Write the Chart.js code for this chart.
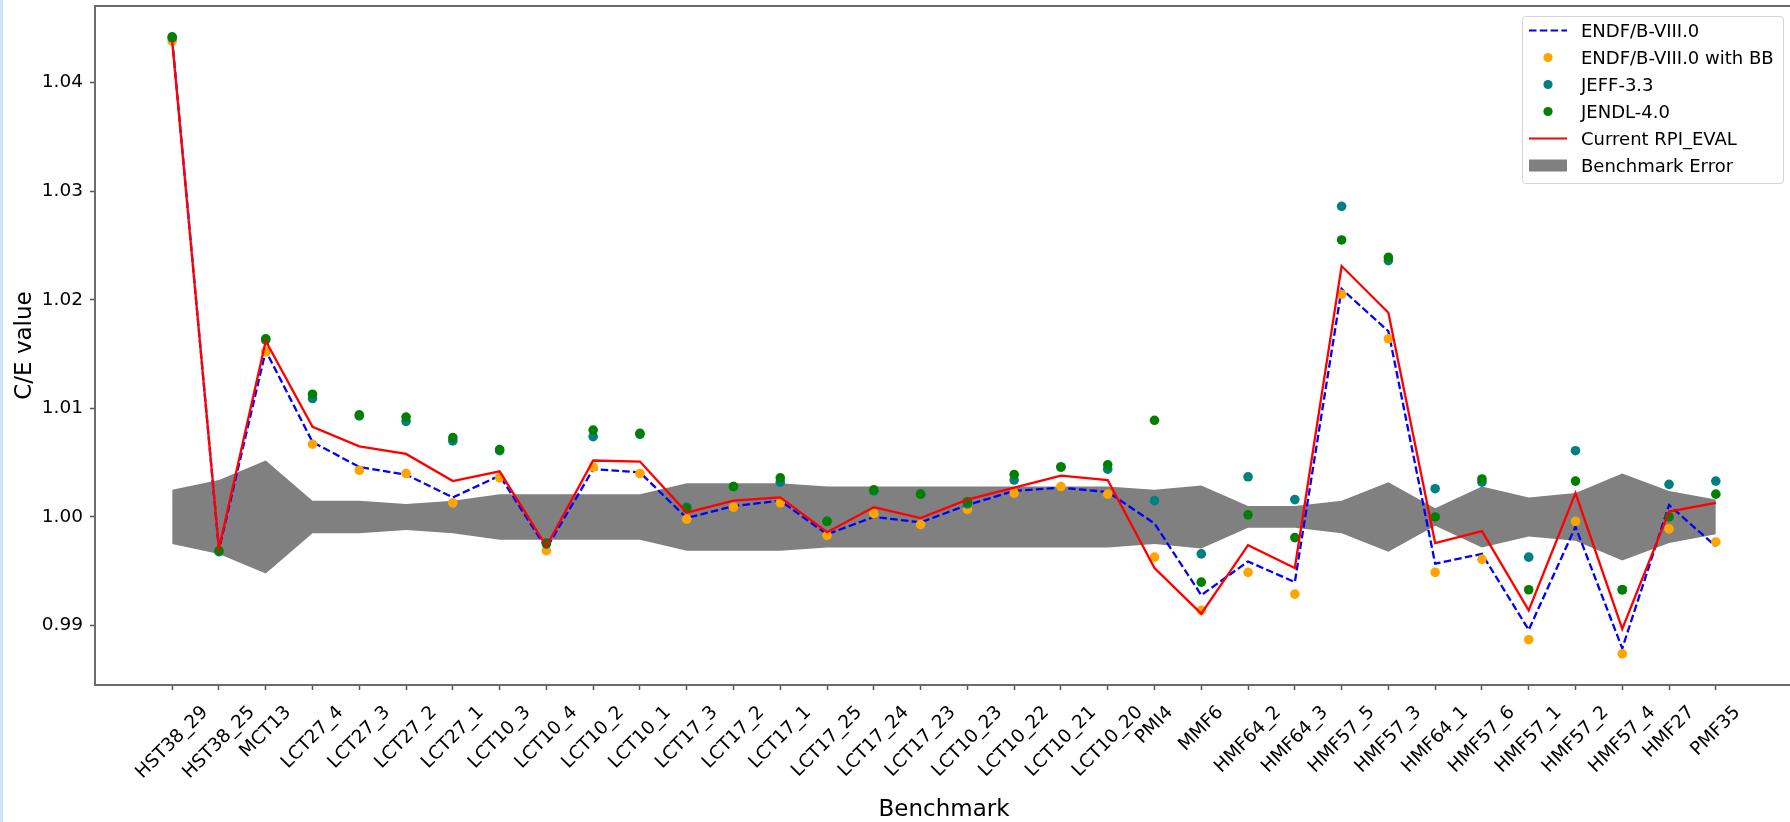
<!DOCTYPE html>
<html>
<head>
<meta charset="utf-8">
<script src="https://cdn.jsdelivr.net/npm/chart.js@4.4.1/dist/chart.umd.min.js"></script>
<style>
  html, body { margin: 0; padding: 0; background: #fff; overflow: hidden; }
  #wrap { position: relative; width: 1790px; height: 822px; overflow: hidden; }
  #strip { position: absolute; left: 0; top: 0; width: 3px; height: 822px; background: #cfe4fb; z-index: 2; }
  #chart { position: absolute; left: 0; top: 0; }
  #legend { position: absolute; left: 1522px; top: 16px; width: 260px; height: 166px;
            border: 1px solid #d4d4d4; border-radius: 4px; background: rgba(255,255,255,0.8);
            font: 18px "DejaVu Sans"; color: #000; }
  .row { position: absolute; left: 0; width: 100%; height: 27px; }
  .row svg { position: absolute; left: 5px; top: 0; }
  .row span { position: absolute; left: 58px; top: 0; line-height: 27px; white-space: nowrap; }
</style>
</head>
<body>
<div id="wrap">
  <div id="strip"></div>
  <canvas id="chart" width="1820" height="822"></canvas>
  <div id="legend"></div>
</div>
<script>
// benchmarks on the x axis
const benchmarks = ['HST38_29', 'HST38_25', 'MCT13', 'LCT27_4', 'LCT27_3', 'LCT27_2', 'LCT27_1',
    'LCT10_3', 'LCT10_4', 'LCT10_2', 'LCT10_1', 'LCT17_3', 'LCT17_2', 'LCT17_1', 'LCT17_25',
    'LCT17_24', 'LCT17_23', 'LCT10_23', 'LCT10_22', 'LCT10_21', 'LCT10_20', 'PMI4', 'MMF6',
    'HMF64_2', 'HMF64_3', 'HMF57_5', 'HMF57_3', 'HMF64_1', 'HMF57_6', 'HMF57_1', 'HMF57_2',
    'HMF57_4', 'HMF27', 'PMF35'];

// C/E values per library
const endf = [1.0440, 0.9970, 1.0153, 1.0069, 1.0046, 1.0039, 1.0018, 1.0038, 0.9971, 1.0044,
    1.0041, 0.9999, 1.0010, 1.0015, 0.9984, 1.0000, 0.9995, 1.0011, 1.0024, 1.0027, 1.0023,
    0.9994, 0.9928, 0.9959, 0.9940, 1.0210, 1.0171, 0.9957, 0.9966, 0.9896, 0.9991, 0.9879,
    1.0011, 0.9973];
const endfBB = [1.0438, 0.9969, 1.0152, 1.0067, 1.0043, 1.0040, 1.0013, 1.0036, 0.9969, 1.0046,
    1.0040, 0.9998, 1.0009, 1.0013, 0.9983, 1.0003, 0.9993, 1.0007, 1.0022, 1.0028, 1.0021,
    0.9963, 0.9914, 0.9949, 0.9929, 1.0205, 1.0164, 0.9949, 0.9961, 0.9887, 0.9996, 0.9874,
    0.9989, 0.9977];
const jeff = [1.0441, 0.9968, 1.0163, 1.0109, 1.0093, 1.0088, 1.0070, 1.0061, 0.9975, 1.0074,
    1.0076, 1.0009, 1.0028, 1.0032, 0.9996, 1.0024, 1.0021, 1.0012, 1.0034, 1.0046, 1.0044,
    1.0015, 0.9966, 1.0037, 1.0016, 1.0286, 1.0236, 1.0026, 1.0032, 0.9963, 1.0061, 0.9933,
    1.0030, 1.0033];
const jendl = [1.0442, 0.9969, 1.0164, 1.0113, 1.0094, 1.0092, 1.0073, 1.0062, 0.9976, 1.0080,
    1.0077, 1.0008, 1.0028, 1.0036, 0.9996, 1.0025, 1.0021, 1.0014, 1.0039, 1.0046, 1.0048,
    1.0089, 0.9940, 1.0002, 0.9981, 1.0255, 1.0239, 1.0000, 1.0035, 0.9933, 1.0033, 0.9933,
    1.0000, 1.0021];
const rpi = [1.0438, 0.9971, 1.0162, 1.0083, 1.0065, 1.0058, 1.0033, 1.0042, 0.9973, 1.0052,
    1.0051, 1.0004, 1.0015, 1.0018, 0.9986, 1.0009, 0.9999, 1.0016, 1.0027, 1.0038, 1.0034,
    0.9953, 0.9911, 0.9974, 0.9953, 1.0231, 1.0188, 0.9976, 0.9987, 0.9914, 1.0022, 0.9897,
    1.0005, 1.0013];
// benchmark uncertainty (band is 1 +/- err)
const benchErr = [0.0025, 0.0034, 0.0052, 0.0015, 0.0015, 0.0012, 0.0015, 0.0021, 0.0021, 0.0021,
    0.0021, 0.0031, 0.0031, 0.0031, 0.0028, 0.0028, 0.0028, 0.0028, 0.0028, 0.0028, 0.0028,
    0.0025, 0.0029, 0.0010, 0.0010, 0.0015, 0.0032, 0.0008, 0.0028, 0.0018, 0.0022, 0.0040,
    0.0024, 0.0016];

const yTicks = [0.99, 1.00, 1.01, 1.02, 1.03, 1.04];

const FONT = 'DejaVu Sans';
const pts = arr => arr.map((v, i) => ({ x: i, y: v }));

function dots(label, values, color, order) {
    return {
        label: label, data: pts(values), showLine: false, order: order,
        pointRadius: 4.8, pointHoverRadius: 4.8, pointBorderWidth: 0,
        pointBackgroundColor: color, borderColor: color, backgroundColor: color
    };
}

// box round the axes (right side falls outside the window, as in the original)
const spinePlugin = {
    id: 'spines',
    afterDatasetsDraw(chart) {
        const { ctx, chartArea: a } = chart;
        ctx.save();
        ctx.strokeStyle = '#6b6b6b';
        ctx.lineWidth = 2;
        ctx.strokeRect(a.left, a.top, a.right - a.left, a.bottom - a.top);
        ctx.restore();
    }
};

// rotated x labels centred on their tick, like matplotlib rotation=45
const xLabelPlugin = {
    id: 'xLabels',
    afterDraw(chart) {
        const ctx = chart.ctx;
        const sx = chart.scales.x;
        const top = chart.chartArea.bottom + 17;
        const fs = 18.5, h = fs * 1.164;
        ctx.save();
        ctx.font = fs + 'px "' + FONT + '"';
        ctx.fillStyle = '#000';
        ctx.textAlign = 'center';
        ctx.textBaseline = 'middle';
        benchmarks.forEach((name, i) => {
            const w = ctx.measureText(name).width;
            const cx = sx.getPixelForValue(i);
            const cy = top + (w + h) * Math.SQRT1_2 / 2;
            ctx.save();
            ctx.translate(cx, cy);
            ctx.rotate(-Math.PI / 4);
            ctx.fillText(name, 0, 0);
            ctx.restore();
        });
        ctx.restore();
    }
};

const tickGrid = { drawOnChartArea: false, drawTicks: true, tickLength: 5, tickColor: '#555', tickWidth: 1.5 };

const ctx = document.getElementById('chart').getContext('2d');
const chart = new Chart(ctx, {
    type: 'line',
    data: {
        datasets: [
            { label: 'Current RPI_EVAL', data: pts(rpi), borderColor: '#ff0000', borderWidth: 2.3,
              pointRadius: 0, fill: false, order: 1 },
            dots('JENDL-4.0', jendl, '#008000', 2),
            dots('JEFF-3.3', jeff, '#008080', 3),
            dots('ENDF/B-VIII.0 with BB', endfBB, '#ffa500', 4),
            { label: 'ENDF/B-VIII.0', data: pts(endf), borderColor: '#0000ff', borderWidth: 2.3,
              borderDash: [7.5, 3.3], pointRadius: 0, fill: false, order: 5 },
            { label: 'band low', data: benchErr.map((e, i) => ({ x: i, y: 1 - e })),
              borderWidth: 0, borderColor: 'rgba(0,0,0,0)', pointRadius: 0, fill: false, order: 6 },
            { label: 'Benchmark Error', data: benchErr.map((e, i) => ({ x: i, y: 1 + e })),
              borderWidth: 0, borderColor: 'rgba(0,0,0,0)', pointRadius: 0,
              backgroundColor: '#808080', fill: 5, order: 7 }
        ]
    },
    options: {
        responsive: false,
        animation: false,
        devicePixelRatio: 1,
        layout: { padding: { top: 6, right: 27, left: 0, bottom: 0 } },
        elements: { line: { tension: 0 } },
        plugins: {
            legend: { display: false },
            tooltip: { enabled: false },
            filler: { propagate: false }
        },
        scales: {
            x: {
                type: 'linear', min: -1.65, max: 34.65,
                afterBuildTicks: s => { s.ticks = benchmarks.map((_, i) => ({ value: i })); },
                afterFit: s => { s.height = 137; s.paddingLeft = 0; s.paddingRight = 0; },
                ticks: { callback: () => '', autoSkip: false, maxRotation: 0 },
                grid: tickGrid,
                border: { display: false },
                title: { display: true, text: 'Benchmark', color: '#000',
                         font: { family: FONT, size: 23 }, padding: { top: 0, bottom: -2 } }
            },
            y: {
                min: 0.98453, max: 1.04704,
                afterBuildTicks: s => { s.ticks = yTicks.map(v => ({ value: v })); },
                afterFit: s => { s.width = 95; s.paddingTop = 0; s.paddingBottom = 0; },
                ticks: { callback: v => v.toFixed(2), color: '#000',
                         font: { family: FONT, size: 18.5 }, padding: 7 },
                grid: tickGrid,
                border: { display: false },
                title: { display: true, text: 'C/E value', color: '#000',
                         font: { family: FONT, size: 23 }, padding: { top: 11, bottom: 0 } }
            }
        }
    },
    plugins: [spinePlugin, xLabelPlugin]
});

// legend in matplotlib order, built from the chart's datasets
const legendOrder = [4, 3, 2, 1, 0, 6];
const legendEl = document.getElementById('legend');
legendOrder.forEach((idx, row) => {
    const ds = chart.data.datasets[idx];
    let mark;
    if (ds.showLine === false) {
        mark = '<circle cx="20" cy="13.5" r="4.6" fill="' + ds.pointBackgroundColor + '"/>';
    } else if (ds.fill !== false) {
        mark = '<rect x="1" y="7.5" width="38" height="12" fill="' + ds.backgroundColor + '"/>';
    } else {
        const dash = ds.borderDash ? ' stroke-dasharray="' + ds.borderDash.join(' ') + '"' : '';
        mark = '<line x1="1" y1="13.5" x2="39" y2="13.5" stroke="' + ds.borderColor +
               '" stroke-width="2"' + dash + '/>';
    }
    const div = document.createElement('div');
    div.className = 'row';
    div.style.top = (row * 27) + 'px';
    div.innerHTML = '<svg width="40" height="27">' + mark + '</svg><span>' + ds.label + '</span>';
    legendEl.appendChild(div);
});
</script>
</body>
</html>
